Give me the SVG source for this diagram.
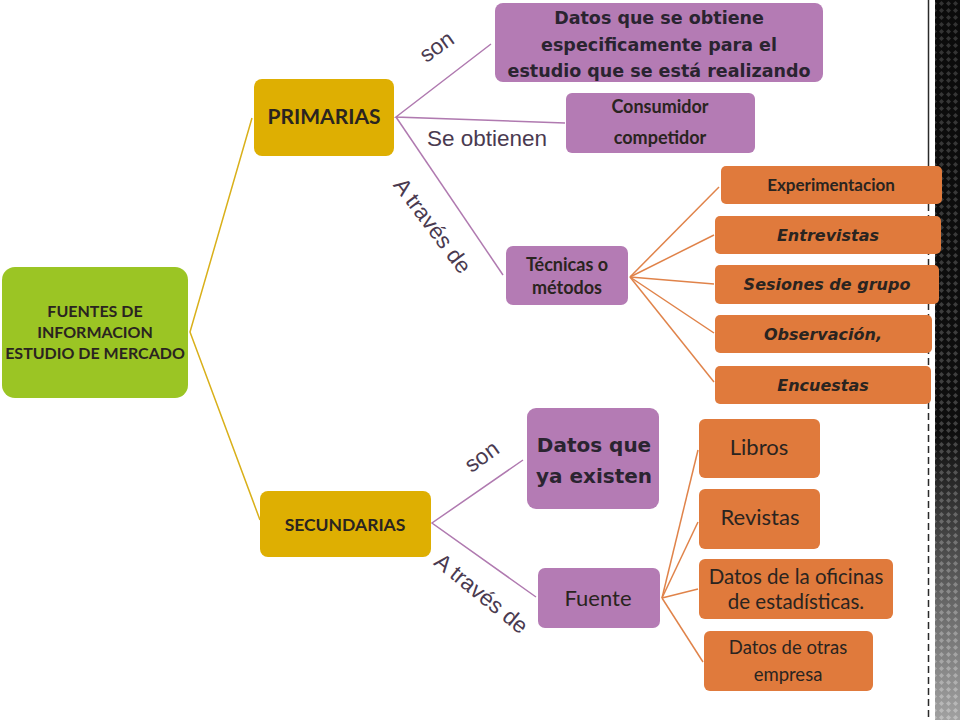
<svg xmlns="http://www.w3.org/2000/svg" width="960" height="720" viewBox="0 0 960 720">
<defs>
<style>
.green{fill:#9BC524}
.gold{fill:#DEAF02}
.purple{fill:#B47BB4}
.orange{fill:#E07A3C}
.cal{font-family:Lato,"Open Sans","Liberation Sans",sans-serif;font-weight:700;fill:#2a2420;text-anchor:middle}
.calr{font-family:Lato,"Open Sans","Liberation Sans",sans-serif;font-weight:400;fill:#2a2420;text-anchor:middle}
.comic{font-family:"DejaVu Sans","Liberation Sans",sans-serif;font-weight:700;fill:#2a2430;text-anchor:middle}
.comici{font-family:"DejaVu Sans","Liberation Sans",sans-serif;font-weight:700;font-style:oblique;fill:#2a2420;text-anchor:middle}
.lbl{font-family:"Liberation Sans",Arial,sans-serif;font-size:22.5px;fill:#4a3a50;text-anchor:middle}
.ly{stroke:#D9B01A;stroke-width:1.5;fill:none}
.lp{stroke:#B07AB0;stroke-width:1.5;fill:none}
.lo{stroke:#E0834A;stroke-width:1.5;fill:none}
</style>
<pattern id="dia" width="7" height="7" patternUnits="userSpaceOnUse">
<rect width="7" height="7" fill="#141414"/>
<path d="M3.5 1 L6 3.5 L3.5 6 L1 3.5 Z" fill="#5c5c5c"/>
</pattern>
<linearGradient id="shade" x1="0" y1="0" x2="0" y2="1">
<stop offset="0" stop-color="#000" stop-opacity="0.45"/>
<stop offset="0.6" stop-color="#000" stop-opacity="0.3"/>
<stop offset="1" stop-color="#000" stop-opacity="0"/>
</linearGradient>
<linearGradient id="light" x1="0" y1="0" x2="0" y2="1">
<stop offset="0.6" stop-color="#fff" stop-opacity="0"/>
<stop offset="1" stop-color="#fff" stop-opacity="0.6"/>
</linearGradient>
</defs>
<rect width="960" height="720" fill="#ffffff"/>
<g id="border">
<rect x="935" y="0" width="25" height="720" fill="url(#dia)"/>
<rect x="935" y="0" width="25" height="720" fill="url(#shade)"/>
<rect x="935" y="0" width="25" height="720" fill="url(#light)"/>
<line x1="928.5" y1="0" x2="928.5" y2="160" stroke="#2a2a2a" stroke-width="1.5"/>
<line x1="928.5" y1="160" x2="928.5" y2="720" stroke="#2a2a2a" stroke-width="1.5" stroke-dasharray="7 4"/>
</g>
<g id="connectors">
<polyline class="ly" points="252,118 190,332 260,520"/>
<polyline class="lp" points="491,44 396,117 565,123"/>
<line class="lp" x1="396" y1="117" x2="503" y2="275"/>
<polyline class="lp" points="523,460 432,523 536,597"/>
<line class="lo" x1="630" y1="277" x2="719" y2="187"/>
<line class="lo" x1="630" y1="277" x2="714" y2="235"/>
<line class="lo" x1="630" y1="277" x2="714" y2="284"/>
<line class="lo" x1="630" y1="277" x2="714" y2="333"/>
<line class="lo" x1="630" y1="277" x2="714" y2="382"/>
<line class="lo" x1="662" y1="598" x2="698" y2="450"/>
<line class="lo" x1="662" y1="598" x2="698" y2="522"/>
<line class="lo" x1="662" y1="598" x2="698" y2="589"/>
<line class="lo" x1="662" y1="598" x2="703" y2="662"/>
</g>
<g id="labels">
<text class="lbl" transform="translate(437,47) rotate(-35)" y="7" font-size="24">son</text>
<text class="lbl" x="487" y="146">Se obtienen</text>
<text class="lbl" transform="translate(432,226) rotate(53)" y="7">A través de</text>
<text class="lbl" transform="translate(482,457) rotate(-36)" y="7" font-size="24">son</text>
<text class="lbl" transform="translate(481,594) rotate(39)" y="7">A través de</text>
</g>
<g id="n-fuentes">
<rect class="green" x="2" y="267" width="186" height="131" rx="13"/>
<text class="cal" font-size="16" x="95" y="317">FUENTES DE</text>
<text class="cal" font-size="16" x="95" y="338">INFORMACION</text>
<text class="cal" font-size="16" x="95" y="359">ESTUDIO DE MERCADO</text>
</g>
<g id="n-primarias">
<rect class="gold" x="254" y="79" width="140" height="77" rx="8"/>
<text class="cal" font-size="21" x="324" y="124">PRIMARIAS</text>
</g>
<g id="n-secundarias">
<rect class="gold" x="260" y="491" width="171" height="66" rx="8"/>
<text class="cal" font-size="17.5" x="345" y="531">SECUNDARIAS</text>
</g>
<g id="n-datos-obtiene">
<rect class="purple" x="495" y="3" width="328" height="79" rx="8"/>
<text class="comic" font-size="17.5" x="659" y="24">Datos que se obtiene</text>
<text class="comic" font-size="17.5" x="659" y="51">especificamente para el</text>
<text class="comic" font-size="17.5" x="659" y="77">estudio que se está realizando</text>
</g>
<g id="n-consumidor">
<rect class="purple" x="566" y="93" width="189" height="60" rx="6"/>
<text class="cal" font-size="18" x="660" y="113">Consumidor</text>
<text class="cal" font-size="18" x="660" y="144">competidor</text>
</g>
<g id="n-tecnicas">
<rect class="purple" x="506" y="246" width="122" height="59" rx="7"/>
<text class="cal" font-size="18" x="567" y="271">Técnicas o</text>
<text class="cal" font-size="18" x="567" y="294">métodos</text>
</g>
<g id="n-experimentacion">
<rect class="orange" x="721" y="166" width="221" height="38" rx="5"/>
<text class="cal" font-size="17" x="831" y="191">Experimentacion</text>
</g>
<g id="n-entrevistas">
<rect class="orange" x="715" y="216" width="226" height="38" rx="5"/>
<text class="comici" font-size="16" x="828" y="241">Entrevistas</text>
</g>
<g id="n-sesiones">
<rect class="orange" x="715" y="265" width="224" height="39" rx="5"/>
<text class="comici" font-size="16" x="827" y="290">Sesiones de grupo</text>
</g>
<g id="n-observacion">
<rect class="orange" x="715" y="315" width="217" height="38" rx="5"/>
<text class="comici" font-size="16" x="823" y="340">Observación,</text>
</g>
<g id="n-encuestas">
<rect class="orange" x="715" y="366" width="216" height="38" rx="5"/>
<text class="comici" font-size="16" x="823" y="391">Encuestas</text>
</g>
<g id="n-datos-existen">
<rect class="purple" x="527" y="408" width="132" height="101" rx="9"/>
<text class="comic" font-size="20" x="594" y="452">Datos que</text>
<text class="comic" font-size="20" x="594" y="483">ya existen</text>
</g>
<g id="n-fuente">
<rect class="purple" x="538" y="568" width="122" height="60" rx="7"/>
<text class="calr" font-size="22" x="598" y="606">Fuente</text>
</g>
<g id="n-libros">
<rect class="orange" x="699" y="419" width="121" height="59" rx="6"/>
<text class="calr" font-size="22" x="759" y="455">Libros</text>
</g>
<g id="n-revistas">
<rect class="orange" x="699" y="489" width="121" height="60" rx="6"/>
<text class="calr" font-size="22" x="760" y="525">Revistas</text>
</g>
<g id="n-oficinas">
<rect class="orange" x="699" y="559" width="194" height="60" rx="6"/>
<text class="calr" font-size="20.5" x="796" y="584">Datos de la oficinas</text>
<text class="calr" font-size="20.5" x="796" y="609">de estadísticas.</text>
</g>
<g id="n-otras">
<rect class="orange" x="704" y="631" width="169" height="60" rx="6"/>
<text class="calr" font-size="18.5" x="788" y="654">Datos de otras</text>
<text class="calr" font-size="18.5" x="788" y="681">empresa</text>
</g>
</svg>
